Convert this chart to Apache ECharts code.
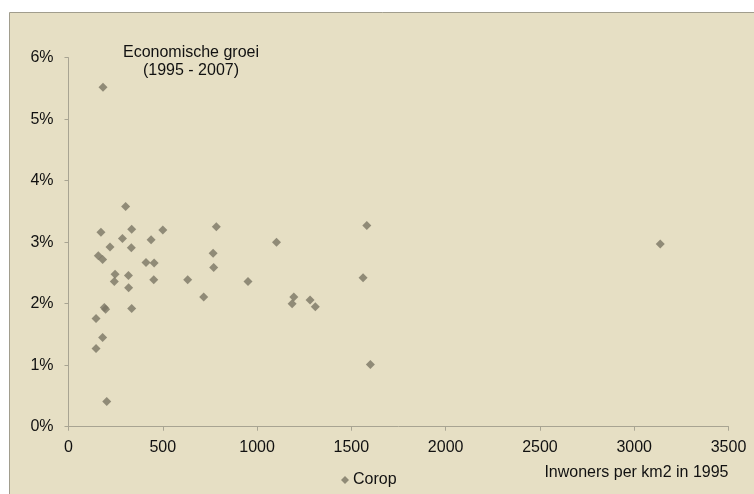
<!DOCTYPE html>
<html><head><meta charset="utf-8">
<script src="https://cdn.jsdelivr.net/npm/echarts@6/dist/echarts.min.js"></script>
<style>html,body{margin:0;padding:0;background:#fff}#c{width:754px;height:494px}</style>
</head><body><div id="c"></div>
<script>
const density = [183,303,172,335,500,784,286,438,220,333,158,181,767,411,454,770,247,318,243,452,632,952,319,717,1195,1186,1281,1309,1103,190,197,335,146,181,146,203,1582,1562,1601,3138];
const growth  = [5.52,3.58,3.16,3.21,3.20,3.25,3.06,3.04,2.92,2.91,2.78,2.72,2.82,2.67,2.66,2.59,2.48,2.46,2.36,2.39,2.39,2.36,2.26,2.11,2.11,2.00,2.06,1.95,3.00,1.94,1.91,1.92,1.76,1.45,1.27,0.41,3.27,2.42,1.01,2.97];
const xTicks = [0,500,1000,1500,2000,2500,3000,3500];
const yTicksPct = [0,1,2,3,4,5,6];
const seriesName = 'Corop';
const titleLines = ['Economische groei','(1995 - 2007)'];
const xTitle = 'Inwoners per km2 in 1995';

const pts = density.map((d,i)=>[d, growth[i]/100]);
const font = 'Liberation Sans, Arial, sans-serif';
const chart = echarts.init(document.getElementById('c'));
chart.setOption({
  backgroundColor: '#ffffff',
  animation: false,
  graphic: [{
    type: 'rect', z: -10, silent: true,
    shape: {x: 9.5, y: 12.5, width: 800, height: 500},
    style: {fill: '#E6DFC4', stroke: '#A19D8D', lineWidth: 1}
  }],
  title: {
    text: titleLines.join('\n'),
    left: 186, top: 38.5, textAlign: 'center',
    textStyle: {fontFamily: font, fontSize: 16, fontWeight: 'normal', color: '#111', lineHeight: 18}
  },
  legend: {
    data: [{name: seriesName, icon: 'diamond'}],
    left: 336, top: 467, itemWidth: 8, itemHeight: 8, itemGap: 4,
    textStyle: {fontFamily: font, fontSize: 16, color: '#111', padding: [0,0,0,-1]}
  },
  grid: {left: 68.5, right: 25.5, top: 57.7, bottom: 67.3, containLabel: false},
  xAxis: {
    type: 'value', min: 0, max: 3500, interval: 500,
    name: xTitle, nameLocation: 'end', nameGap: 0,
    nameTextStyle: {fontFamily: font, fontSize: 16, color: '#111', align: 'right', verticalAlign: 'top', padding: [38, 0, 0, 0]},
    axisLine: {show: true, lineStyle: {color: '#A8A492', width: 1}},
    axisTick: {show: true, length: 4, lineStyle: {color: '#A8A492'}},
    axisLabel: {fontFamily: font, fontSize: 16, color: '#111', margin: 13,
      formatter: v => xTicks.includes(v) ? String(v) : ''},
    splitLine: {show: false}
  },
  yAxis: {
    type: 'value', min: 0, max: 0.06, interval: 0.01,
    axisLine: {show: true, lineStyle: {color: '#A8A492', width: 1}},
    axisTick: {show: true, length: 4, lineStyle: {color: '#A8A492'}},
    axisLabel: {fontFamily: font, fontSize: 16, color: '#111', margin: 15,
      formatter: v => { const p = Math.round(v*100); return yTicksPct.includes(p) ? p + '%' : ''; }},
    splitLine: {show: false}
  },
  series: [{
    name: seriesName, type: 'scatter', symbol: 'diamond', symbolSize: 9,
    itemStyle: {color: '#7A7564'},
    data: pts
  }]
});
</script></body></html>
